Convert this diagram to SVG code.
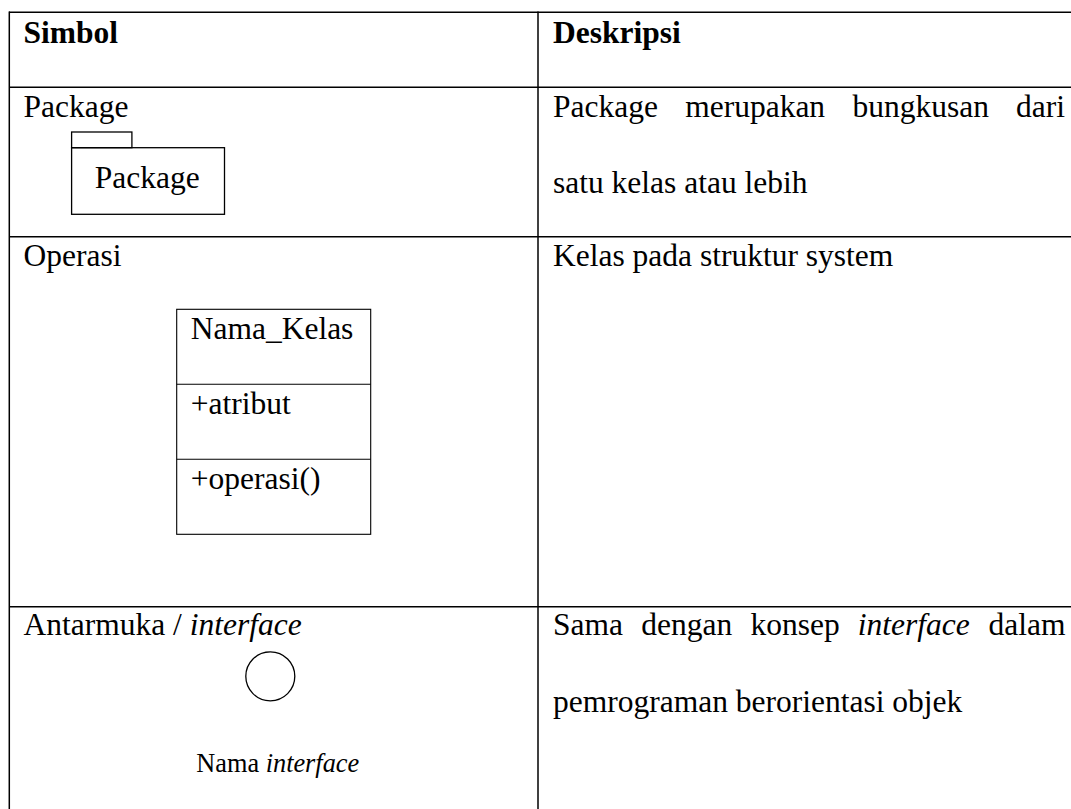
<svg xmlns="http://www.w3.org/2000/svg" width="1071" height="809" viewBox="0 0 1071 809">
  <style>
    .b { font-weight: bold; }
    .i { font-style: italic; }
    .sm { font-size: 26.3px; }
    .grid { stroke: #000; stroke-width: 1.5; fill: none; }
    .shape { stroke: #000; stroke-width: 1.3; fill: none; }
    .thin { stroke: #000; stroke-width: 1.1; fill: none; }
  </style>
  <rect width="1071" height="809" fill="#fff"/>

  <g id="table-grid">
    <line class="grid" x1="9" y1="12.3" x2="1071" y2="12.3"/>
    <line class="grid" x1="9" y1="87.3" x2="1071" y2="87.3"/>
    <line class="grid" x1="9" y1="236.7" x2="1071" y2="236.7"/>
    <line class="grid" x1="9" y1="606.7" x2="1071" y2="606.7"/>
    <line class="grid" x1="9.3" y1="11.5" x2="9.3" y2="809"/>
    <line class="grid" x1="538" y1="11.5" x2="538" y2="809"/>
  </g>

  <g font-family="'Liberation Serif', 'Times New Roman', 'DejaVu Serif', serif" font-size="31.5" fill="#000">
  <g id="header">
    <text class="b" x="23.5" y="43.3">Simbol</text>
    <text class="b" x="553" y="43.3">Deskripsi</text>
  </g>

  <g id="row-package">
    <text x="23.5" y="116.7">Package</text>
    <g id="package-icon">
      <rect class="shape" x="71.6" y="132" width="60.3" height="15.7"/>
      <rect class="shape" x="71.6" y="147.7" width="152.9" height="66.6"/>
      <text x="94.7" y="188.3">Package</text>
    </g>
    <text x="553" y="116.7">Package</text>
    <text x="685.2" y="116.7">merupakan</text>
    <text x="852.4" y="116.7">bungkusan</text>
    <text x="1065" y="116.7" text-anchor="end">dari</text>
    <text x="553" y="193.3">satu kelas atau lebih</text>
  </g>

  <g id="row-operasi">
    <text x="23.5" y="266">Operasi</text>
    <g id="class-box">
      <rect class="thin" x="176.7" y="309.3" width="194" height="225"/>
      <line class="thin" x1="176.7" y1="384.3" x2="370.7" y2="384.3"/>
      <line class="thin" x1="176.7" y1="459.3" x2="370.7" y2="459.3"/>
      <text x="190.7" y="339.3">Nama_Kelas</text>
      <text x="190.7" y="414">+atribut</text>
      <text x="190.7" y="489">+operasi()</text>
    </g>
    <text x="553" y="266">Kelas pada struktur system</text>
  </g>

  <g id="row-interface">
    <text x="23.5" y="635">Antarmuka / <tspan class="i">interface</tspan></text>
    <g id="interface-icon">
      <circle class="shape" cx="270.3" cy="676.3" r="24.5"/>
      <text class="sm" x="196.3" y="772.3">Nama <tspan class="i">interface</tspan></text>
    </g>
    <text x="553" y="635">Sama</text>
    <text x="641.2" y="635">dengan</text>
    <text x="750.4" y="635">konsep</text>
    <text class="i" x="857.8" y="635">interface</text>
    <text x="1065.5" y="635" text-anchor="end">dalam</text>
    <text x="553" y="711.7">pemrograman berorientasi objek</text>
  </g>
  </g>

  <g id="connectors"/>
</svg>
